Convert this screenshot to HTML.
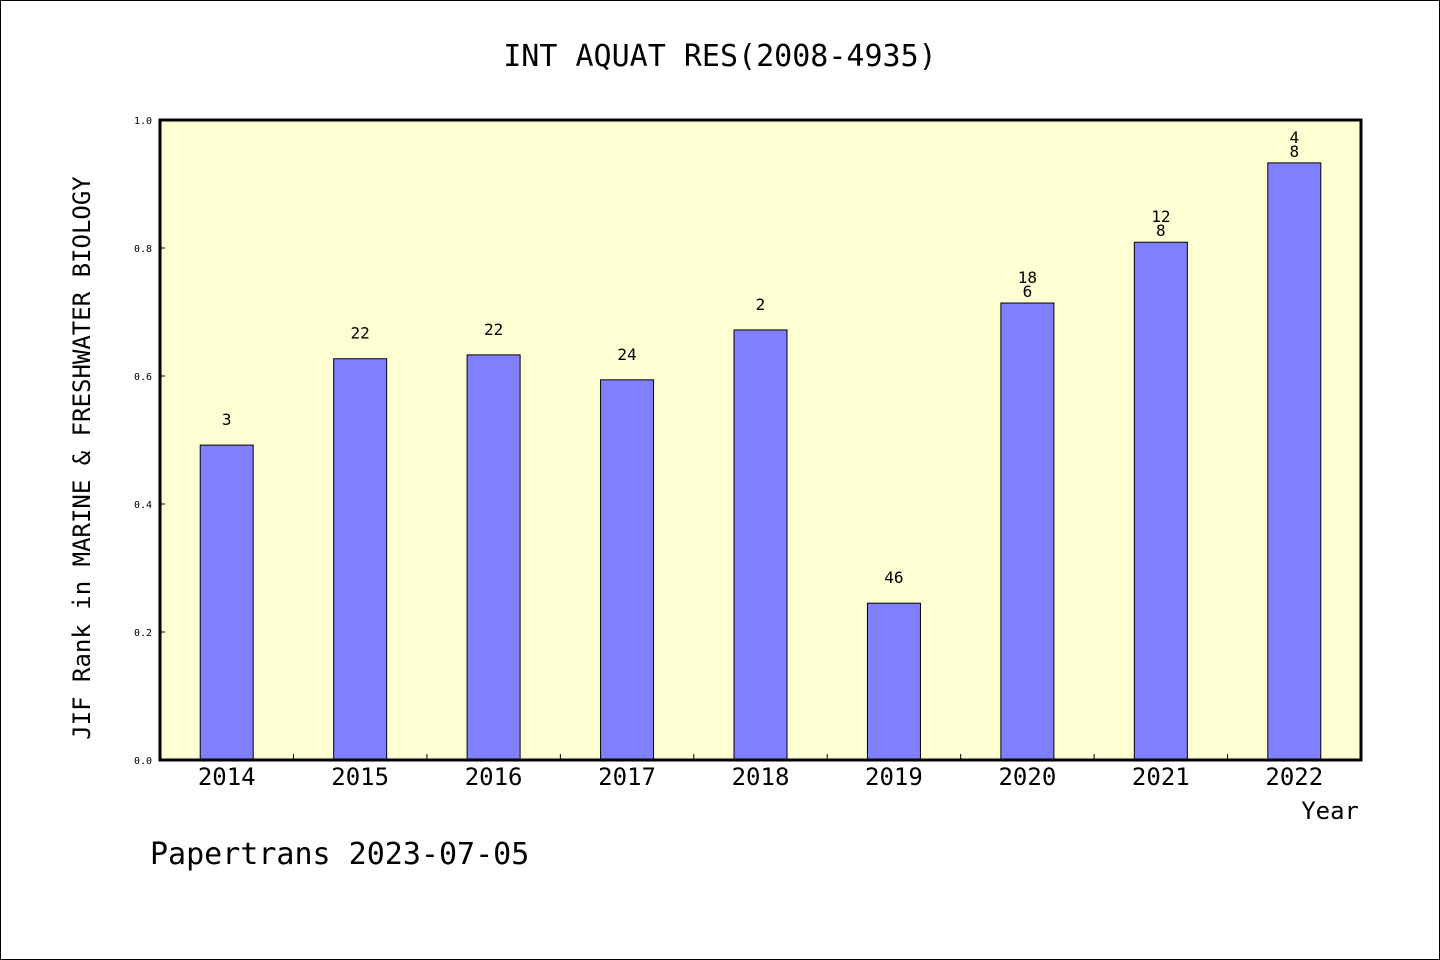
<!DOCTYPE html>
<html><head><meta charset="utf-8"><style>
body{margin:0;background:#fff}
svg{display:block;font-family:"DejaVu Sans Mono","Liberation Mono",monospace}
</style></head><body>
<svg width="1440" height="960" viewBox="0 0 1440 960">
<rect x="0.5" y="0.5" width="1439" height="959" fill="#fff" stroke="#000"/>
<text x="720" y="66" font-size="30" text-anchor="middle">INT AQUAT RES(2008-4935)</text>
<rect x="160" y="120" width="1201" height="640" fill="#ffffd4"/>
<g id="ticks"></g>
<g id="bars"></g>
<rect x="160" y="120" width="1201" height="640" fill="none" stroke="#000" stroke-width="3"/>
<text transform="translate(90,458) rotate(-90)" font-size="24" text-anchor="middle">JIF Rank in MARINE &amp; FRESHWATER BIOLOGY</text>
<text x="1359" y="819" font-size="24" text-anchor="end">Year</text>
<text x="150" y="864" font-size="30">Papertrans 2023-07-05</text>
</svg>
<script>
const years=["2014","2015","2016","2017","2018","2019","2020","2021","2022"];
const values=[0.492,0.627,0.633,0.594,0.672,0.245,0.714,0.809,0.933];
const labels=[["3"],["22"],["22"],["24"],["2"],["46"],["18","6"],["12","8"],["4","8"]];
const yTicks=["0.0","0.2","0.4","0.6","0.8","1.0"];
const NS="http://www.w3.org/2000/svg";
const x0=160,x1=1361,y0=760,y1=120;
const bw=(x1-x0)/years.length;
const ys=v=>y0-(v)*(y0-y1);
const xc=i=>x0+bw*(i+0.5);
function mk(t,a,p){const e=document.createElementNS(NS,t);for(const k in a)e.setAttribute(k,a[k]);p.appendChild(e);return e;}
const tg=document.getElementById('ticks'),bg=document.getElementById('bars');
yTicks.forEach(t=>{const y=ys(parseFloat(t));
 const l=mk('line',{x1:x0,x2:x0+5,y1:y,y2:y,stroke:'#000'},tg);
 
 
 const tx=mk('text',{x:152,y:y+4,'font-size':10,'text-anchor':'end'},tg);tx.textContent=t;
 
 
});
years.forEach((yr,i)=>{
 if(i>0){const l=mk('line',{x1:x0+bw*i,x2:x0+bw*i,y1:y0,y2:y0-6,stroke:'#000'},tg);
  
  }
 const tx=mk('text',{x:xc(i),y:785,'font-size':24,'text-anchor':'middle'},tg);tx.textContent=yr;
 
 
 const top=ys(values[i]);
 const r=mk('rect',{x:xc(i)-26.5,y:top,width:53,height:y0-top,fill:'#8080ff',stroke:'#000','stroke-width':1},bg);
 
 
 const ls=labels[i];
 ls.forEach((s,j)=>{const t=mk('text',{x:xc(i),y:top-(ls.length===1?20:6+(ls.length-1-j)*14),'font-size':16,'text-anchor':'middle'},bg);t.textContent=s;
  
  });
});
</script>
</body></html>
